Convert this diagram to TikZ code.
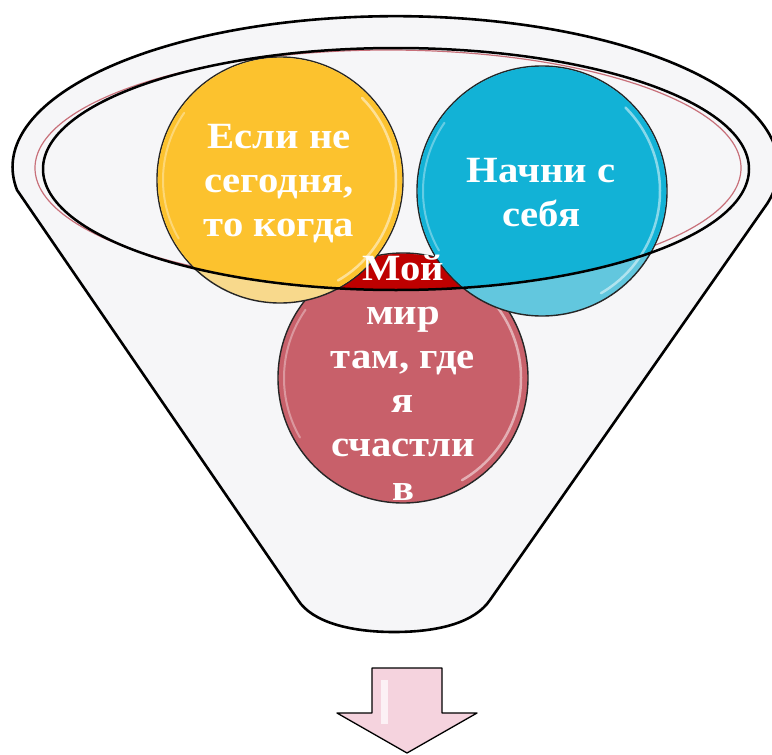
\documentclass[tikz,border=0pt]{standalone}
\usepackage{fontspec}
\newfontfamily\bubfont{Liberation Serif}[FakeStretch=1.1]
\definecolor{sunlite}{RGB}{248,217,140}
\definecolor{sundeep}{RGB}{252,194,46}
\definecolor{skylite}{RGB}{98,199,222}
\definecolor{skydeep}{RGB}{18,178,214}
\definecolor{rosebody}{RGB}{200,96,106}
\definecolor{rosedeep}{RGB}{190,0,0}
\definecolor{funnelgray}{RGB}{246,246,248}
\definecolor{rimred}{RGB}{200,112,122}
\definecolor{arrowpink}{RGB}{245,211,222}

\begin{document}
\begin{tikzpicture}[line cap=round,line join=round,x=1pt,y=-1pt,
    bubble/.style={circle,inner sep=0pt,draw=black!85,line width=1.4pt},
    bubtext/.style={align=center,text=white,font=\bubfont\bfseries\fontsize{37}{44}\selectfont}]
    \useasboundingbox (0,0) rectangle (772,755);
    \fill[white] (0,0) rectangle (772,755);
    % funnel
    \draw[line width=2.6pt,fill=funnelgray] (17,190) arc[start angle=171.3,end angle=373.8,x radius=383,y radius=151]
        -- (490,600) .. controls (475,622) and (440,632) .. (394,632)
        .. controls (350,632) and (312,622) .. (298,600) -- cycle;
    \draw[rimred,line width=1.2pt] (388,168) ellipse [x radius=353,y radius=118];
    % circles, deep colour inside the rim
    \foreach \n/\c/\r/\lite/\deep in {happy/{403,378}/125/rosebody/rosedeep,
        today/{280,180}/123/sunlite/sundeep,self/{542,191}/125/skylite/skydeep}
    {
    \node[bubble,fill=\lite,minimum size=2*\r*1pt] (\n) at (\c) {};
    \begin{scope}
    \clip (396,169) ellipse [x radius=353,y radius=121];
    \fill[\deep] (\n.center) circle[radius=\r-0.8];
    \end{scope}
    \draw[white,opacity=.5,line width=2.5pt] ([shift={(-45:\r-7)}]\n.center) arc[start angle=-45,end angle=60,radius=\r-7];
    \draw[white,opacity=.35,line width=2pt] ([shift={(150:\r-6)}]\n.center) arc[start angle=150,end angle=215,radius=\r-6];
    }
    \draw[line width=2.5pt] (396,169) ellipse [x radius=353,y radius=121];
    \node[bubtext] (todaytxt) at (279,184) {Если не\\сегодня,\\то когда};
    \node[bubtext] (selftxt) at (541,193) {Начни с\\себя};
    \node[bubtext] (happytxt) at (403,378) {Мой\\мир\\там, где\\я\\счастли\\в};
    % arrow
    \draw[line width=1.3pt,fill=arrowpink] (372,668) -- (442,668) -- (442,713) -- (477,713)
        -- (407,753) -- (337,713) -- (372,713) -- cycle;
    \fill[white,opacity=.7] (381,680) rectangle (388,724);
\end{tikzpicture}
\end{document}
